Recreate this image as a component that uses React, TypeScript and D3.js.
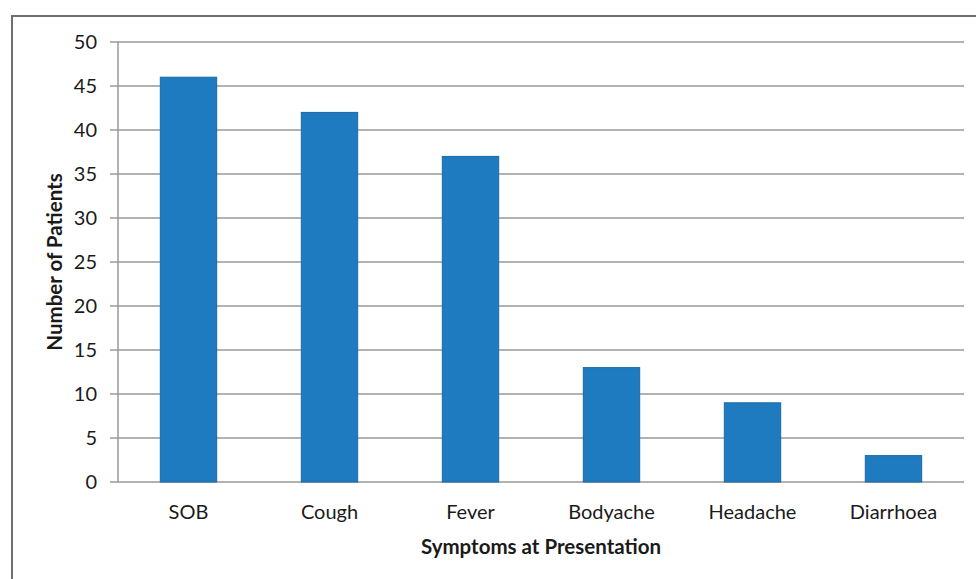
import React, { useEffect, useRef } from "react";
import * as d3 from "d3";

const symptoms = ["SOB", "Cough", "Fever", "Bodyache", "Headache", "Diarrhoea"];
const patients = [46, 42, 37, 13, 9, 3];
const yTicks = [0, 5, 10, 15, 20, 25, 30, 35, 40, 45, 50];

const App = () => {
  const svgRef = useRef<SVGSVGElement | null>(null);

  useEffect(() => {
    const width = 976;
    const height = 579;
    const margin = { top: 42, right: 12, bottom: 97, left: 118 };

    const svg = d3.select(svgRef.current);
    svg.selectAll("*").remove();
    svg.attr("width", width).attr("height", height);

    // outer frame, cut off at right / bottom like the source image
    svg
      .append("rect")
      .attr("x", 12)
      .attr("y", 16)
      .attr("width", width)
      .attr("height", height)
      .attr("fill", "white")
      .attr("stroke", "#6e6e6e")
      .attr("stroke-width", 2);

    const x = d3
      .scaleBand<string>()
      .domain(symptoms)
      .range([margin.left, width - margin.right])
      .paddingInner(0.6)
      .paddingOuter(0.3);

    const y = d3
      .scaleLinear()
      .domain([0, 50])
      .range([height - margin.bottom, margin.top]);

    const font = "Lato, 'Open Sans', sans-serif";

    // gridlines + ticks
    const grid = svg.append("g");
    grid
      .selectAll("line")
      .data(yTicks)
      .join("line")
      .attr("x1", margin.left - 8)
      .attr("x2", width - margin.right)
      .attr("y1", (d) => y(d))
      .attr("y2", (d) => y(d))
      .attr("stroke", "#9a9a9a")
      .attr("stroke-width", 1.5);

    // y axis line
    svg
      .append("line")
      .attr("x1", margin.left)
      .attr("x2", margin.left)
      .attr("y1", y(50))
      .attr("y2", y(0))
      .attr("stroke", "#9a9a9a")
      .attr("stroke-width", 1.5);

    svg
      .append("g")
      .selectAll("text")
      .data(yTicks)
      .join("text")
      .attr("x", margin.left - 21)
      .attr("y", (d) => y(d))
      .attr("dy", "0.36em")
      .attr("text-anchor", "end")
      .style("font-family", font)
      .style("font-size", "20px")
      .style("fill", "#1a1a1a")
      .text((d) => d);

    // bars
    svg
      .append("g")
      .selectAll("rect")
      .data(patients)
      .join("rect")
      .attr("x", (_, i) => x(symptoms[i])!)
      .attr("y", (d) => y(d))
      .attr("width", x.bandwidth())
      .attr("height", (d) => y(0) - y(d))
      .attr("fill", "#1f7bbf")
      .attr("stroke", "#1a6aa6")
      .attr("stroke-width", 1);

    // x labels
    svg
      .append("g")
      .selectAll("text")
      .data(symptoms)
      .join("text")
      .attr("x", (d) => x(d)! + x.bandwidth() / 2)
      .attr("y", y(0) + 37)
      .attr("text-anchor", "middle")
      .style("font-family", font)
      .style("font-size", "20px")
      .style("fill", "#1a1a1a")
      .text((d) => d);

    // axis titles
    svg
      .append("text")
      .attr("x", 541)
      .attr("y", y(0) + 72)
      .attr("text-anchor", "middle")
      .style("font-family", font)
      .style("font-size", "20.5px")
      .style("font-weight", "bold")
      .style("fill", "#1a1a1a")
      .text("Symptoms at Presentation");

    svg
      .append("text")
      .attr("transform", `translate(62,${(y(0) + y(50)) / 2}) rotate(-90)`)
      .attr("text-anchor", "middle")
      .style("font-family", font)
      .style("font-size", "20.5px")
      .style("font-weight", "bold")
      .style("fill", "#1a1a1a")
      .text("Number of Patients");
  }, []);

  return <svg ref={svgRef} style={{ position: "absolute", left: 0, top: 0 }}></svg>;
};

export default App;
